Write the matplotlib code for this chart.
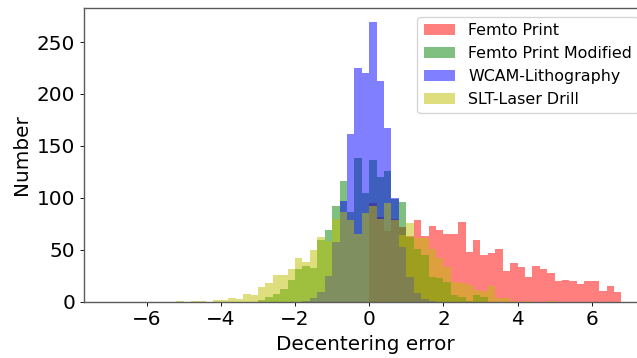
import numpy as np
import matplotlib
matplotlib.use("Agg")
import matplotlib.pyplot as plt

# histogram counts, bin width 0.2, given as (first bin left edge, counts)
BIN_WIDTH = 0.2
EDGES = np.round(np.arange(-35, 35) * BIN_WIDTH, 1)   # -7.0 ... 6.8

femto_start = 0.0
femto_counts = [95, 82, 68, 80, 72, 63, 79, 63, 73, 69, 65, 65, 77, 48, 59, 45, 47,
                51, 30, 37, 33, 24, 34, 31, 28, 20, 21, 20, 17, 20, 20, 10, 15, 9]

femto_mod_start = -3.0
femto_mod_counts = [2, 5, 7, 12, 21, 31, 34, 32, 59, 69, 92, 116, 86, 138, 105, 136,
                    120, 126, 99, 96, 62, 51, 45, 24, 23, 19, 6, 5, 1, 6, 5]

wcam_start = -1.8
wcam_counts = [1, 4, 9, 25, 57, 97, 161, 225, 220, 269, 212, 167, 100, 53, 24, 8, 3, 1]

slt_start = -5.2
slt_counts = [1, 0, 1, 1, 0, 2, 2, 4, 3, 7, 6, 14, 18, 26, 26, 31, 42, 38, 50, 62, 58,
              80, 86, 79, 65, 85, 92, 80, 95, 79, 64, 76, 61, 61, 51, 42, 33, 19, 18,
              16, 11, 10, 15, 4, 4, 1, 0, 1, 0, 0, 1]

series = [
    ("Femto Print", "r", femto_start, femto_counts),
    ("Femto Print Modified", "g", femto_mod_start, femto_mod_counts),
    ("WCAM-Lithography", "b", wcam_start, wcam_counts),
    ("SLT-Laser Drill", "y", slt_start, slt_counts),
]

fig = plt.figure(figsize=(6.37, 3.58), dpi=100)
ax = fig.add_axes([84 / 637, (358 - 301.7) / 358, (647 - 84) / 637, (301.7 - 8.3) / 358])

for label, color, start, counts in series:
    full = np.zeros(len(EDGES) - 1)
    i0 = int(round((start - EDGES[0]) / BIN_WIDTH))
    full[i0:i0 + len(counts)] = counts
    centers = EDGES[:-1] + BIN_WIDTH / 2
    ax.hist(centers, bins=EDGES, weights=full, color=color, alpha=0.5, label=label)

ax.set_xlabel("Decentering error", fontsize=14.4)
ax.set_ylabel("Number", fontsize=14.4)
ax.tick_params(labelsize=14.4, width=0.64, length=2.8)
for s in ax.spines.values():
    s.set_linewidth(1.0)
    s.set_color("#5a5a5a")
ax.legend(loc="upper right", fontsize=11.4, bbox_to_anchor=(1.0, 1.0),
          borderaxespad=0.55)

fig.savefig("out.png", dpi=100)
